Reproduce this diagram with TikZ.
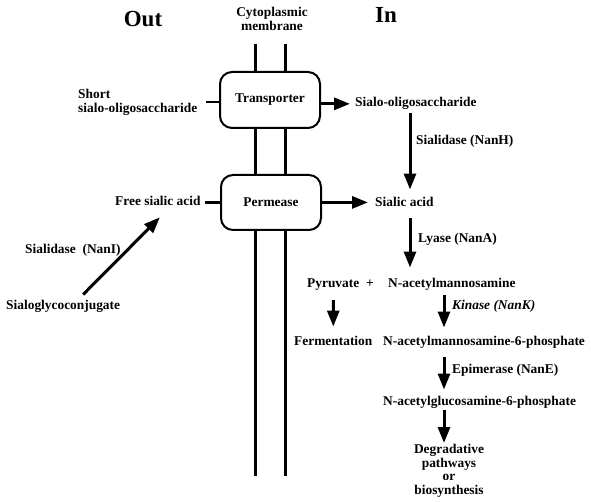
\documentclass[tikz,border=0pt]{standalone}
\usepackage{fontspec}
\setmainfont{Liberation Serif}
\usetikzlibrary{calc,positioning,arrows.meta}
\tikzstyle{txt} = [inner sep=0pt, font=\bfseries\fontsize{13.4}{13.7}\selectfont]
\tikzstyle{side} = [inner sep=0pt, font=\bfseries\fontsize{23}{23}\selectfont]
\tikzstyle{carrier} = [draw, fill=white, line width=2pt, rounded corners=12pt, minimum width=100pt, minimum height=56pt, inner sep=0pt, font=\bfseries\fontsize{13.4}{13.7}\selectfont]
\tikzstyle{membrane} = [line width=3pt]
\tikzstyle{reaction} = [line width=3pt, -{Triangle[length=16pt,width=12pt]}]

\begin{document}
\begin{tikzpicture}[x=1pt,y=-1pt]
	\useasboundingbox (0,0) rectangle (591,502);

	% Membrane
	\draw[membrane] (255,44) -- (255,476);
	\draw[membrane] (285,44) -- (285,476);
	\node[txt, align=center, anchor=north] (mem) at (272,7) {Cytoplasmic\\membrane};
	\node[side, anchor=base] (out) at (143,27) {Out};
	\node[side, anchor=base] (in) at (386,23) {In};

	% Carriers
	\node[carrier] (trans) at (270,100) {Transporter};
	\node[carrier, minimum height=55pt] (perm) at (271,202.5) {Permease};

	% Outside
	\node[txt, align=left, anchor=west] (short) at (78,102.5) {Short\\sialo-oligosaccharide};
	\node[txt, anchor=base west] (free) at (115,206) {Free sialic acid};
	\node[txt, anchor=base west] (nani) at (25,254) {Sialidase\ \ (NanI)};
	\node[txt, anchor=base west] (glyco) at (6,309) {Sialoglycoconjugate};

	% Inside
	\coordinate (ax1) at (410,0);
	\coordinate (ax2) at (444,0);
	\node[txt, anchor=base west] (oligo) at (355,107) {Sialo-oligosaccharide};
	\node[txt, anchor=base west] (nanh) at (416,145) {Sialidase (NanH)};
	\node[txt, anchor=base west] (sa) at (375,207) {Sialic acid};
	\node[txt, anchor=base west] (nana) at (418,243) {Lyase (NanA)};
	\node[txt, anchor=base west] (pyr) at (307,288) {Pyruvate};
	\node[txt, anchor=base] (plus) at (370,288) {+};
	\node[txt, anchor=base west] (mannos) at (388,288) {N-acetylmannosamine};
	\node[txt, anchor=base west] (nank) at (452,309) {\itshape Kinase (NanK)};
	\node[txt, anchor=base west] (ferm) at (294,345) {Fermentation};
	\node[txt, anchor=base west] (phos) at (383,345) {N-acetylmannosamine-6-phosphate};
	\node[txt, anchor=base west] (nane) at (452,373) {Epimerase (NanE)};
	\node[txt, anchor=base west] (gluc) at (383,405) {N-acetylglucosamine-6-phosphate};
	\node[txt, align=center, anchor=north] (degr) at (449,444) {Degradative\\pathways\\or\\biosynthesis};

	% Ticks
	\draw[membrane, line width=2.5pt] ([yshift=-2pt]trans.west) -- ++(-13,0);
	\draw[membrane, line width=2.5pt] (perm.west) -- ++(-15,0);

	% Reactions
	\draw[reaction, shorten >=5pt] (trans.east |- oligo.west) -- (oligo.west);
	\draw[reaction, shorten >=7pt] (perm.east |- sa.west) -- (sa.west);
	\draw[reaction] ($(glyco.north)+(20,-5)$) -- ($(free.south)+(2,11)$);
	\draw[reaction, shorten <=3pt, shorten >=8pt] (oligo.south -| ax1) -- (sa.north -| ax1);
	\draw[reaction, shorten <=11pt, shorten >=11pt] (sa.south -| ax1) -- (mannos.north -| ax1);
	\draw[reaction, shorten <=4pt, shorten >=8pt] (mannos.south -| ax2) -- (phos.north -| ax2);
	\draw[reaction, shorten <=9pt, shorten >=9pt] (pyr) -- (ferm);
	\draw[reaction, shorten <=9pt, shorten >=6pt] (phos.south -| ax2) -- (gluc.north -| ax2);
	\draw[reaction, shorten <=2pt, shorten >=1pt] (gluc.south -| ax2) -- (degr.north -| ax2);
\end{tikzpicture}
\end{document}
